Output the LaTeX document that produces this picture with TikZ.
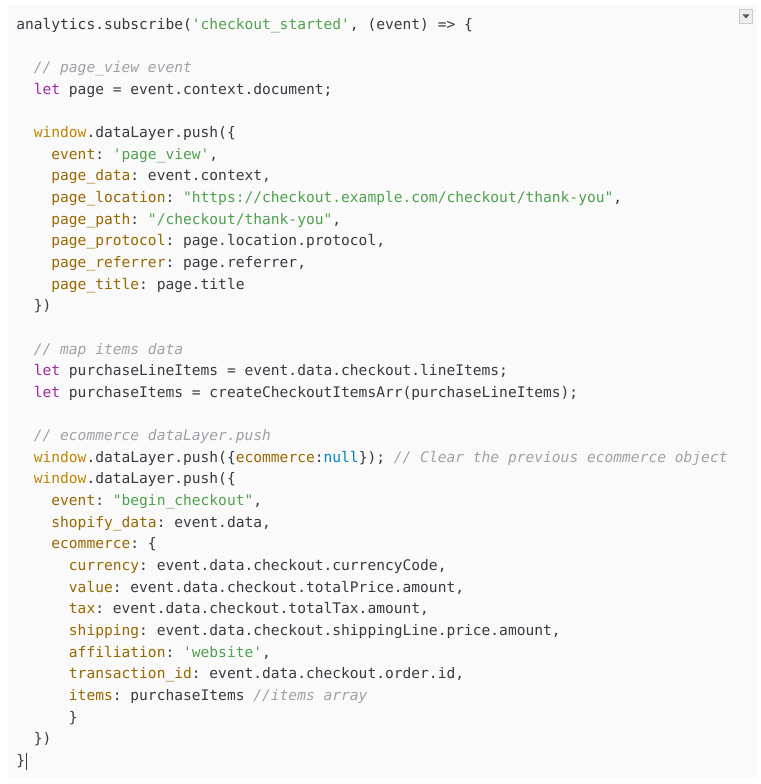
\documentclass[tikz,border=0pt]{standalone}
\usepackage{fontspec}
\setmonofont{DejaVu Sans Mono}
\usepackage{xcolor}

\definecolor{codebg}{HTML}{FAFAFA}
\definecolor{codetext}{HTML}{383A42}
\definecolor{codekw}{HTML}{A626A4}
\definecolor{codestr}{HTML}{50A14F}
\definecolor{codecm}{HTML}{A0A1A7}
\definecolor{codebi}{HTML}{C18401}
\definecolor{codeattr}{HTML}{986801}
\definecolor{codelit}{HTML}{0184BB}

\newcommand{\kw}[1]{\textcolor{codekw}{#1}}
\newcommand{\str}[1]{\textcolor{codestr}{#1}}
\newcommand{\cm}[1]{\textcolor{codecm}{\itshape #1}}
\newcommand{\bi}[1]{\textcolor{codebi}{#1}}
\newcommand{\attr}[1]{\textcolor{codeattr}{#1}}
\newcommand{\lit}[1]{\textcolor{codelit}{#1}}

\begin{document}
\begin{tikzpicture}[x=0.75pt,y=-0.75pt,
  codeline/.style={anchor=base west,inner sep=0pt,text=codetext,
    font=\fontsize{10.94pt}{13pt}\ttfamily\frenchspacing}]
  \useasboundingbox (0,0) rectangle (760,784);

  % Code block background and menu button
  \fill[codebg] (8,5) rectangle (757,778);
  \draw[draw=black!20,fill=black!7] (739.5,9.5) rectangle (752.5,23.5);
  \fill[black!65] (742.5,14.5) -- (749.5,14.5) -- (746,18.5) -- cycle;

  % Lines of code
  \node[codeline] (l1) at (16,29.3) {analytics.subscribe(\str{'checkout\_started'}, (event) => \{};
  \node[codeline] (l3) at (33.56,72.6) {\cm{// page\_view event}};
  \node[codeline] (l4) at (33.56,94.25) {\kw{let} page = event.context.document;};
  \node[codeline] (l6) at (33.56,137.55) {\bi{window}.dataLayer.push(\{};
  \node[codeline] (l7) at (51.12,159.2) {\attr{event}: \str{'page\_view'},};
  \node[codeline] (l8) at (51.12,180.85) {\attr{page\_data}: event.context,};
  \node[codeline] (l9) at (51.12,202.5) {\attr{page\_location}: \str{"https://checkout.example.com/checkout/thank-you"},};
  \node[codeline] (l10) at (51.12,224.15) {\attr{page\_path}: \str{"/checkout/thank-you"},};
  \node[codeline] (l11) at (51.12,245.8) {\attr{page\_protocol}: page.location.protocol,};
  \node[codeline] (l12) at (51.12,267.45) {\attr{page\_referrer}: page.referrer,};
  \node[codeline] (l13) at (51.12,289.1) {\attr{page\_title}: page.title};
  \node[codeline] (l14) at (33.56,310.75) {\})};

  \node[codeline] (l16) at (33.56,354.05) {\cm{// map items data}};
  \node[codeline] (l17) at (33.56,375.7) {\kw{let} purchaseLineItems = event.data.checkout.lineItems;};
  \node[codeline] (l18) at (33.56,397.35) {\kw{let} purchaseItems = createCheckoutItemsArr(purchaseLineItems);};

  \node[codeline] (l20) at (33.56,440.65) {\cm{// ecommerce dataLayer.push}};
  \node[codeline] (l21) at (33.56,462.3) {\bi{window}.dataLayer.push(\{\attr{ecommerce}:\lit{null}\}); \cm{// Clear the previous ecommerce object}};
  \node[codeline] (l22) at (33.56,483.95) {\bi{window}.dataLayer.push(\{};
  \node[codeline] (l23) at (51.12,505.6) {\attr{event}: \str{"begin\_checkout"},};
  \node[codeline] (l24) at (51.12,527.25) {\attr{shopify\_data}: event.data,};
  \node[codeline] (l25) at (51.12,548.9) {\attr{ecommerce}: \{};
  \node[codeline] (l26) at (68.68,570.55) {\attr{currency}: event.data.checkout.currencyCode,};
  \node[codeline] (l27) at (68.68,592.2) {\attr{value}: event.data.checkout.totalPrice.amount,};
  \node[codeline] (l28) at (68.68,613.85) {\attr{tax}: event.data.checkout.totalTax.amount,};
  \node[codeline] (l29) at (68.68,635.5) {\attr{shipping}: event.data.checkout.shippingLine.price.amount,};
  \node[codeline] (l30) at (68.68,657.15) {\attr{affiliation}: \str{'website'},};
  \node[codeline] (l31) at (68.68,678.8) {\attr{transaction\_id}: event.data.checkout.order.id,};
  \node[codeline] (l32) at (68.68,700.45) {\attr{items}: purchaseItems \cm{//items array}};
  \node[codeline] (l33) at (68.68,722.1) {\}};
  \node[codeline] (l34) at (33.56,743.75) {\})};
  \node[codeline] (l35) at (16,765.4) {\}};

  % Text cursor
  \draw[codetext,line width=0.9pt] (l35.east) ++(1.5,-8.5) coordinate (cur) -- ++(0,17);
\end{tikzpicture}
\end{document}
